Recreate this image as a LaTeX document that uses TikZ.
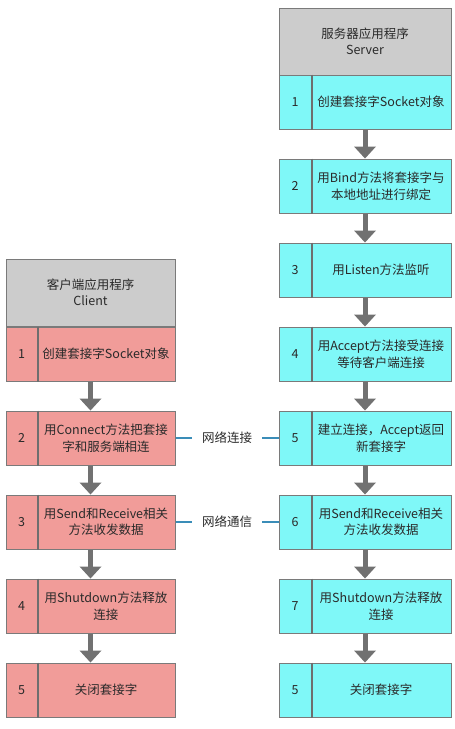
\documentclass[tikz,border=0pt]{standalone}
\usepackage{fontspec}
\setmainfont{Noto Sans CJK SC}
\usetikzlibrary{arrows.meta}
\definecolor{srvfill}{HTML}{7FF8F8}
\definecolor{cltfill}{HTML}{F19C99}
\definecolor{hdrfill}{HTML}{CCCCCC}
\definecolor{boxline}{HTML}{7A7A7A}
\definecolor{divline}{HTML}{6E6E6E}
\definecolor{arrowgray}{HTML}{717171}
\definecolor{linkblue}{HTML}{3A8DB8}
\definecolor{txt}{HTML}{2A2A2A}
\begin{document}
\begin{tikzpicture}[x=1pt,y=1pt,
  basefont/.style={font=\fontsize{12.5pt}{16.5pt}\selectfont, text=txt},
  box/.style={draw=boxline, line width=1pt, minimum height=54pt, inner sep=0pt},
  srvbox/.style={box, fill=srvfill, minimum width=172pt},
  cltbox/.style={box, fill=cltfill, minimum width=169pt},
  hdrbox/.style={box, basefont, fill=hdrfill, minimum height=67pt, align=center},
  numcell/.style={basefont, inner sep=0pt},
  txtcell/.style={basefont, align=center, inner sep=0pt},
  divider/.style={draw=divline, line width=2pt},
  flow/.style={draw=arrowgray, line width=5pt, -{Triangle[width=22pt,length=12pt,line width=0pt]}},
  link/.style={draw=linkblue, line width=1.5pt},
  linklabel/.style={basefont, inner xsep=10pt, inner ysep=2pt}]
\useasboundingbox (0,0) rectangle (455,-729);

% ---------- Server column ----------
\node[hdrbox, minimum width=172pt] (sh) at (365,-41.5) {服务器应用程序\\Server};
\foreach \i/\y/\n/\t in {
  1/102/1/{创建套接字Socket对象},
  2/186/2/{用Bind方法将套接字与\\本地地址进行绑定},
  3/270/3/{用Listen方法监听},
  4/354/4/{用Accept方法接受连接\\等待客户端连接},
  5/438/5/{建立连接，Accept返回\\新套接字},
  6/522/6/{用Send和Receive相关\\方法收发数据},
  7/606/7/{用Shutdown方法释放\\连接},
  8/690/5/{关闭套接字}}{
  \node[srvbox] (s\i) at (365,-\y) {};
  \draw[divider] ([xshift=33pt]s\i.north west) -- ([xshift=33pt]s\i.south west);
  \node[numcell] (s\i n) at ([xshift=16.5pt]s\i.west) {\n};
  \node[txtcell] (s\i t) at ([xshift=102.5pt]s\i.west) {\t};
}
\foreach \a/\b in {1/2,2/3,3/4,4/5,5/6,6/7,7/8}{
  \draw[flow] (s\a.south) -- (s\b.north);
}

% ---------- Client column ----------
\node[hdrbox, minimum width=169pt] (ch) at (90.5,-292.5) {客户端应用程序\\Client};
\foreach \i/\y/\t in {
  1/354/{创建套接字Socket对象},
  2/438/{用Connect方法把套接\\字和服务端相连},
  3/522/{用Send和Receive相关\\方法收发数据},
  4/606/{用Shutdown方法释放\\连接},
  5/690/{关闭套接字}}{
  \node[cltbox] (c\i) at (90.5,-\y) {};
  \draw[divider] ([xshift=32pt]c\i.north west) -- ([xshift=32pt]c\i.south west);
  \node[numcell] (c\i n) at ([xshift=16pt]c\i.west) {\i};
  \node[txtcell] (c\i t) at ([xshift=100.5pt]c\i.west) {\t};
}
\foreach \a/\b in {1/2,2/3,3/4,4/5}{
  \draw[flow] (c\a.south) -- (c\b.north);
}

% ---------- Links ----------
\node[linklabel] (l1) at (227,-438) {网络连接};
\node[linklabel] (l2) at (227,-522) {网络通信};
\draw[link] (c2.east) -- (l1.west);
\draw[link] (l1.east) -- (s5.west);
\draw[link] (c3.east) -- (l2.west);
\draw[link] (l2.east) -- (s6.west);
\end{tikzpicture}
\end{document}
